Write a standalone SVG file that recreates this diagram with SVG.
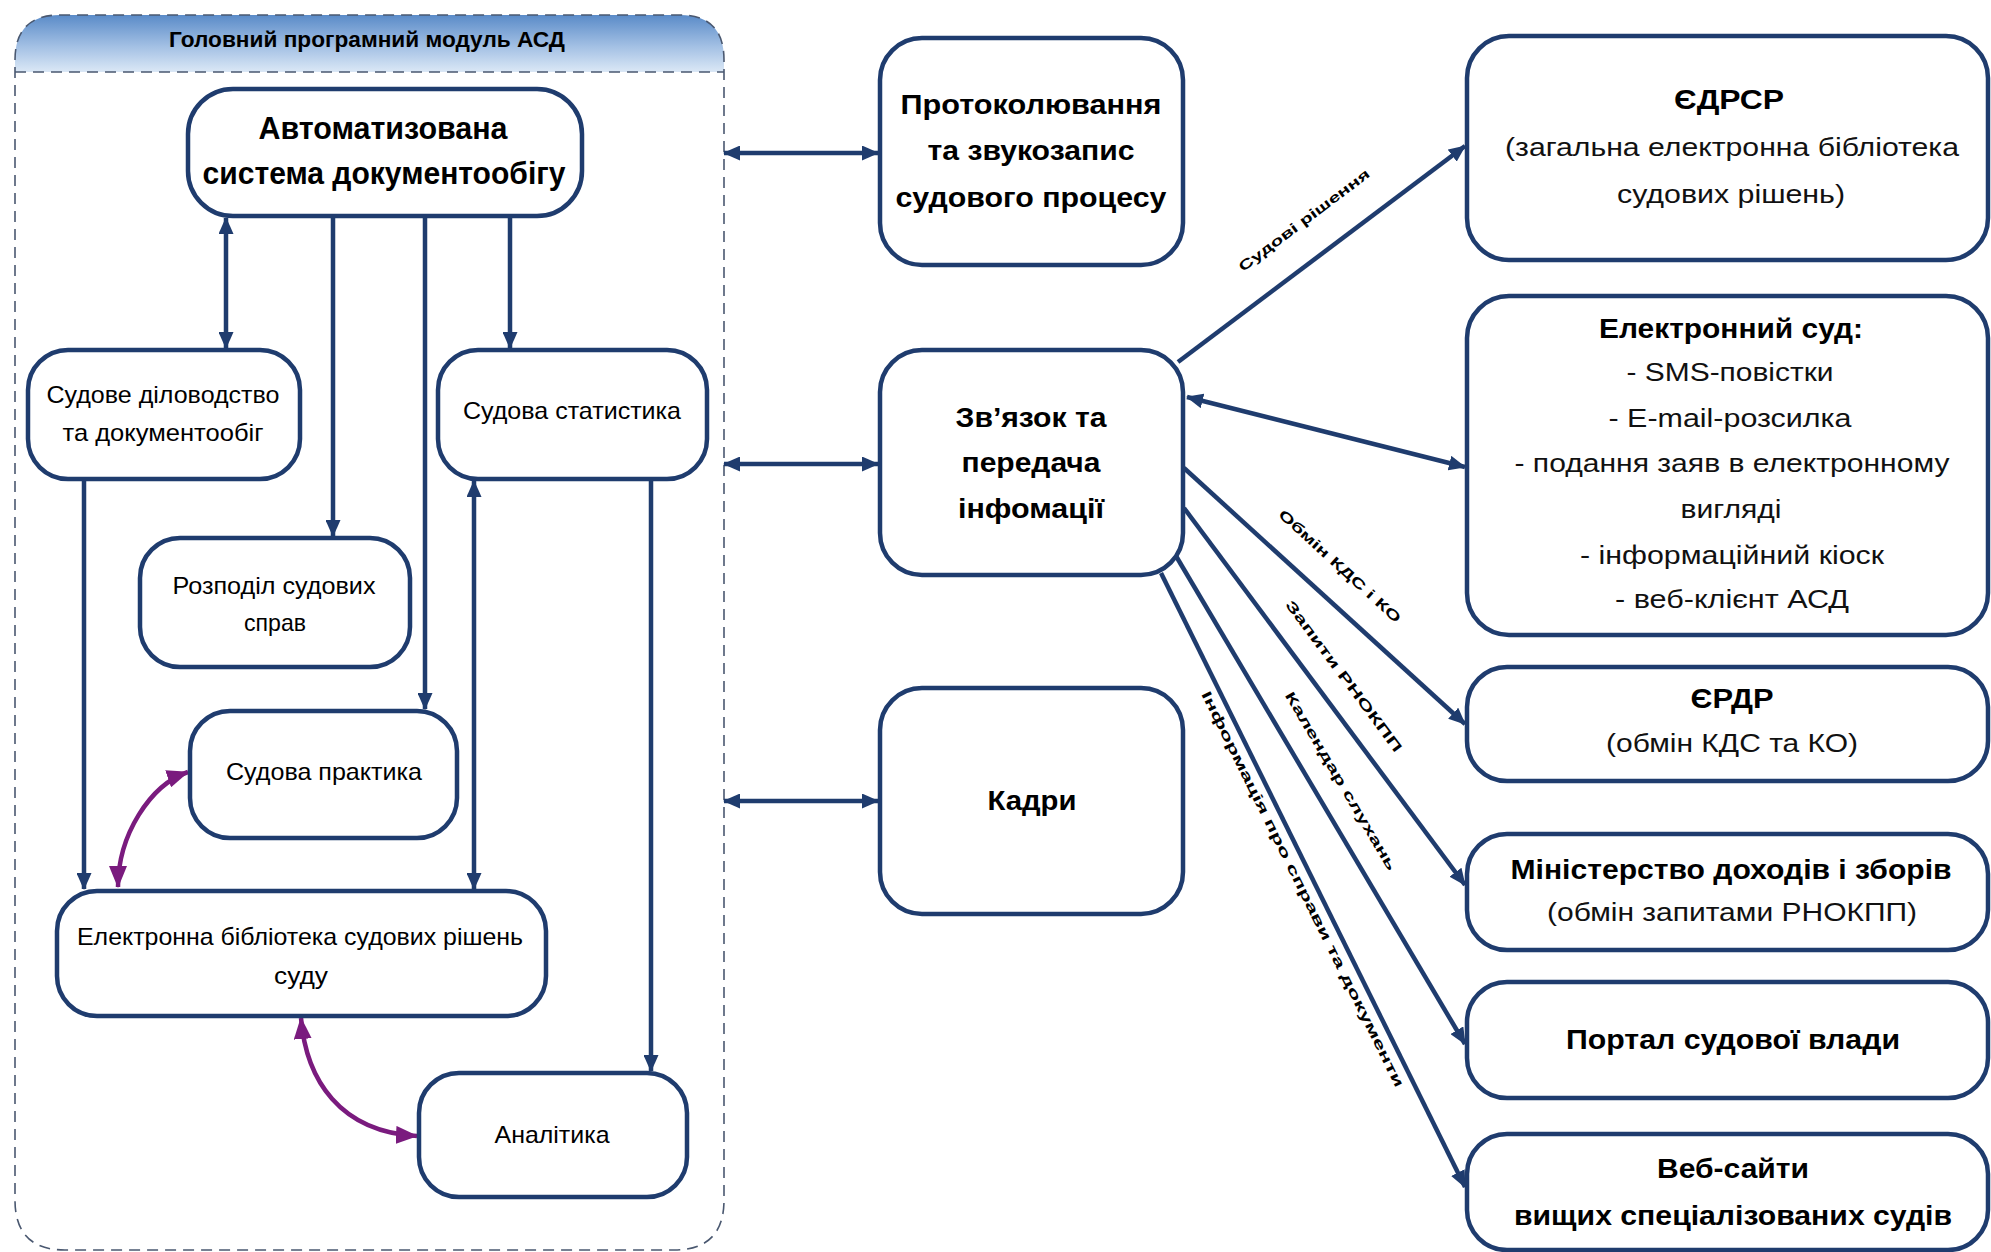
<svg xmlns="http://www.w3.org/2000/svg" width="1991" height="1252" viewBox="0 0 1991 1252">
<defs>
<linearGradient id="hdr" x1="0" y1="0" x2="0" y2="1">
<stop offset="0" stop-color="#5a8bc8"/>
<stop offset="0.55" stop-color="#a3c0e4"/>
<stop offset="1" stop-color="#dbe8f6"/>
</linearGradient>
<marker id="ah" markerUnits="userSpaceOnUse" markerWidth="17" markerHeight="15" refX="16" refY="7.5" orient="auto-start-reverse">
<path d="M0,0 L17,7.5 L0,15 z" fill="#1f3c6e"/>
</marker>
<marker id="ap" markerUnits="userSpaceOnUse" markerWidth="22" markerHeight="18" refX="21" refY="9" orient="auto-start-reverse">
<path d="M0,0 L22,9 L0,18 z" fill="#7a1b7e"/>
</marker>
<style>
.box{fill:#ffffff;stroke:#1f3c6e;stroke-width:4.5}
.c{fill:none;stroke:#1f3c6e;stroke-width:4.5}
.cp{fill:none;stroke:#7a1b7e;stroke-width:4.5}
.t{font-family:"Liberation Sans","Arial",sans-serif;fill:#000;text-anchor:middle}
.bn{font-size:31px;font-weight:bold}
.sn{font-size:24px}
.mb{font-size:28px;font-weight:bold}
.rb{font-size:27px;font-weight:bold}
.rn{font-size:26px;fill:#111}
.lb{font-family:"Liberation Sans","Arial",sans-serif;font-size:14px;font-weight:bold;fill:#000;text-anchor:middle}
</style>
</defs>
<rect width="1991" height="1252" fill="#ffffff"/>

<g id="container">
<path d="M15,72 L15,60 Q15,15 60,15 L680,15 Q724,15 724,60 L724,72 Z" fill="url(#hdr)"/>
<path d="M15,60 Q15,15 60,15 L680,15 Q724,15 724,60 L724,1200 Q724,1250 674,1250 L65,1250 Q15,1250 15,1200 Z" fill="none" stroke="#4a5870" stroke-width="1.6" stroke-dasharray="11,7"/>
<line x1="15" y1="72" x2="724" y2="72" stroke="#4a5870" stroke-width="1.6" stroke-dasharray="11,7"/>
<text class="t" x="367" y="47" font-size="22" font-weight="bold" textLength="396" lengthAdjust="spacingAndGlyphs">Головний програмний модуль АСД</text>
</g>

<g id="connectors">
<line class="c" x1="226" y1="218" x2="226" y2="348" marker-start="url(#ah)" marker-end="url(#ah)"/>
<line class="c" x1="333" y1="216" x2="333" y2="536" marker-end="url(#ah)"/>
<line class="c" x1="425" y1="216" x2="425" y2="709" marker-end="url(#ah)"/>
<line class="c" x1="510" y1="216" x2="510" y2="348" marker-end="url(#ah)"/>
<line class="c" x1="84" y1="479" x2="84" y2="889" marker-end="url(#ah)"/>
<line class="c" x1="474" y1="481" x2="474" y2="889" marker-start="url(#ah)" marker-end="url(#ah)"/>
<line class="c" x1="651" y1="479" x2="651" y2="1071" marker-end="url(#ah)"/>
<path class="cp" d="M118,887 C118,835 150,785 188,772" marker-start="url(#ap)" marker-end="url(#ap)"/>
<path class="cp" d="M301,1018 C306,1080 340,1132 417,1136" marker-start="url(#ap)" marker-end="url(#ap)"/>
<line class="c" x1="724" y1="153" x2="878" y2="153" marker-start="url(#ah)" marker-end="url(#ah)"/>
<line class="c" x1="724" y1="464" x2="878" y2="464" marker-start="url(#ah)" marker-end="url(#ah)"/>
<line class="c" x1="724" y1="801" x2="878" y2="801" marker-start="url(#ah)" marker-end="url(#ah)"/>
<line class="c" x1="1178" y1="362" x2="1465" y2="146" marker-end="url(#ah)"/>
<line class="c" x1="1187" y1="397" x2="1465" y2="467" marker-start="url(#ah)" marker-end="url(#ah)"/>
<line class="c" x1="1184" y1="468" x2="1465" y2="724" marker-end="url(#ah)"/>
<line class="c" x1="1184" y1="508" x2="1465" y2="885" marker-end="url(#ah)"/>
<line class="c" x1="1176" y1="556" x2="1465" y2="1044" marker-end="url(#ah)"/>
<line class="c" x1="1161" y1="573" x2="1465" y2="1187" marker-end="url(#ah)"/>
<text class="lb" transform="translate(1304,220) rotate(-37)" dy="5" textLength="160" lengthAdjust="spacingAndGlyphs">Судові рішення</text>
<text class="lb" transform="translate(1340,566) rotate(42.4)" dy="5" textLength="160" lengthAdjust="spacingAndGlyphs">Обмін КДС і КО</text>
<text class="lb" transform="translate(1344,676) rotate(53.4)" dy="5" textLength="185" lengthAdjust="spacingAndGlyphs">Запити РНОКПП</text>
<text class="lb" transform="translate(1341,781) rotate(59.4)" dy="5" textLength="205" lengthAdjust="spacingAndGlyphs">Календар слухань</text>
<text class="lb" transform="translate(1303,889) rotate(63.7)" dy="5" textLength="440" lengthAdjust="spacingAndGlyphs">Інформація про справи та документи</text>
</g>

<g id="n-asd">
<rect class="box" x="188" y="89" width="394" height="127" rx="45"/>
<text class="t bn" x="383" y="139" textLength="249" lengthAdjust="spacingAndGlyphs">Автоматизована</text>
<text class="t bn" x="384" y="184" textLength="363" lengthAdjust="spacingAndGlyphs">система документообігу</text>
</g>
<g id="n-dilovodstvo">
<rect class="box" x="28" y="350" width="272" height="129" rx="40"/>
<text class="t sn" x="163" y="403" textLength="233" lengthAdjust="spacingAndGlyphs">Судове діловодство</text>
<text class="t sn" x="163" y="441" textLength="201" lengthAdjust="spacingAndGlyphs">та документообіг</text>
</g>
<g id="n-statystyka">
<rect class="box" x="438" y="350" width="269" height="129" rx="40"/>
<text class="t sn" x="572" y="419" textLength="218" lengthAdjust="spacingAndGlyphs">Судова статистика</text>
</g>
<g id="n-rozpodil">
<rect class="box" x="140" y="538" width="270" height="129" rx="40"/>
<text class="t sn" x="274" y="594" textLength="203" lengthAdjust="spacingAndGlyphs">Розподіл судових</text>
<text class="t sn" x="275" y="631" textLength="62" lengthAdjust="spacingAndGlyphs">справ</text>
</g>
<g id="n-praktyka">
<rect class="box" x="190" y="711" width="267" height="127" rx="40"/>
<text class="t sn" x="324" y="780" textLength="196" lengthAdjust="spacingAndGlyphs">Судова практика</text>
</g>
<g id="n-biblioteka">
<rect class="box" x="57" y="891" width="489" height="125" rx="40"/>
<text class="t sn" x="300" y="945" textLength="446" lengthAdjust="spacingAndGlyphs">Електронна бібліотека судових рішень</text>
<text class="t sn" x="301" y="984" textLength="54" lengthAdjust="spacingAndGlyphs">суду</text>
</g>
<g id="n-analityka">
<rect class="box" x="419" y="1073" width="268" height="124" rx="40"/>
<text class="t sn" x="552" y="1143" textLength="115" lengthAdjust="spacingAndGlyphs">Аналітика</text>
</g>

<g id="n-protokol">
<rect class="box" x="880" y="38" width="303" height="227" rx="42"/>
<text class="t mb" x="1031" y="114" textLength="261" lengthAdjust="spacingAndGlyphs">Протоколювання</text>
<text class="t mb" x="1031" y="160" textLength="207" lengthAdjust="spacingAndGlyphs">та звукозапис</text>
<text class="t mb" x="1031" y="207" textLength="271" lengthAdjust="spacingAndGlyphs">судового процесу</text>
</g>
<g id="n-zvyazok">
<rect class="box" x="880" y="350" width="303" height="225" rx="42"/>
<text class="t mb" x="1031" y="427" textLength="151" lengthAdjust="spacingAndGlyphs">Зв’язок та</text>
<text class="t mb" x="1031" y="472" textLength="139" lengthAdjust="spacingAndGlyphs">передача</text>
<text class="t mb" x="1031" y="518" textLength="146" lengthAdjust="spacingAndGlyphs">інфомації</text>
</g>
<g id="n-kadry">
<rect class="box" x="880" y="688" width="303" height="226" rx="42"/>
<text class="t mb" x="1032" y="810" textLength="89" lengthAdjust="spacingAndGlyphs">Кадри</text>
</g>

<g id="n-edrsr">
<rect class="box" x="1467" y="36" width="521" height="224" rx="42"/>
<text class="t rb" x="1729" y="109" textLength="110" lengthAdjust="spacingAndGlyphs">ЄДРСР</text>
<text class="t rn" x="1732" y="156" textLength="454" lengthAdjust="spacingAndGlyphs">(загальна електронна бібліотека</text>
<text class="t rn" x="1731" y="203" textLength="228" lengthAdjust="spacingAndGlyphs">судових рішень)</text>
</g>
<g id="n-esud">
<rect class="box" x="1467" y="296" width="521" height="339" rx="42"/>
<text class="t rb" x="1731" y="338" textLength="264" lengthAdjust="spacingAndGlyphs">Електронний суд:</text>
<text class="t rn" x="1730" y="381" textLength="207" lengthAdjust="spacingAndGlyphs">- SMS-повістки</text>
<text class="t rn" x="1730" y="427" textLength="243" lengthAdjust="spacingAndGlyphs">- E-mail-розсилка</text>
<text class="t rn" x="1732" y="472" textLength="435" lengthAdjust="spacingAndGlyphs">- подання заяв в електронному</text>
<text class="t rn" x="1731" y="518" textLength="101" lengthAdjust="spacingAndGlyphs">вигляді</text>
<text class="t rn" x="1732" y="564" textLength="304" lengthAdjust="spacingAndGlyphs">- інформаційний кіоск</text>
<text class="t rn" x="1732" y="608" textLength="234" lengthAdjust="spacingAndGlyphs">- веб-клієнт АСД</text>
</g>
<g id="n-erdr">
<rect class="box" x="1467" y="667" width="521" height="114" rx="40"/>
<text class="t rb" x="1732" y="708" textLength="83" lengthAdjust="spacingAndGlyphs">ЄРДР</text>
<text class="t rn" x="1732" y="752" textLength="252" lengthAdjust="spacingAndGlyphs">(обмін КДС та КО)</text>
</g>
<g id="n-mindohodiv">
<rect class="box" x="1467" y="834" width="521" height="116" rx="40"/>
<text class="t rb" x="1731" y="879" textLength="441" lengthAdjust="spacingAndGlyphs">Міністерство доходів і зборів</text>
<text class="t rn" x="1732" y="921" textLength="370" lengthAdjust="spacingAndGlyphs">(обмін запитами РНОКПП)</text>
</g>
<g id="n-portal">
<rect class="box" x="1467" y="982" width="521" height="116" rx="40"/>
<text class="t rb" x="1733" y="1049" textLength="334" lengthAdjust="spacingAndGlyphs">Портал судової влади</text>
</g>
<g id="n-vebsaity">
<rect class="box" x="1467" y="1134" width="521" height="116" rx="40"/>
<text class="t rb" x="1733" y="1178" textLength="152" lengthAdjust="spacingAndGlyphs">Веб-сайти</text>
<text class="t rb" x="1733" y="1225" textLength="438" lengthAdjust="spacingAndGlyphs">вищих спеціалізованих судів</text>
</g>
</svg>
